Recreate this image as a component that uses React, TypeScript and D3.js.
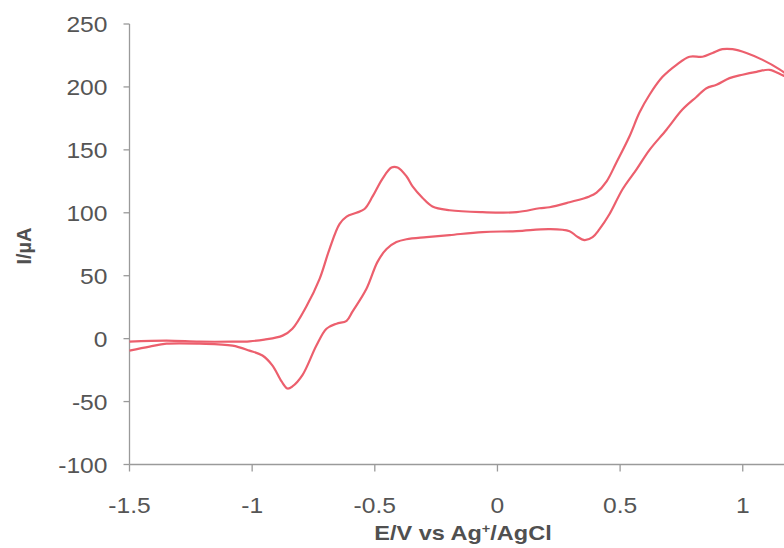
import React from "react";
import * as d3 from "d3";

// Forward (anodic) sweep: potential (V) and current (µA)
const forwardE = [-1.5, -1.349, -1.215, -1.08, -1.011, -0.95, -0.876, -0.836, -0.778, -0.725, -0.685, -0.644, -0.615, -0.575, -0.542, -0.509, -0.469, -0.432, -0.407, -0.371, -0.346, -0.306, -0.265, -0.195, -0.061, 0.078, 0.171, 0.212, 0.294, 0.375, 0.404, 0.445, 0.485, 0.538, 0.579, 0.62, 0.673, 0.73, 0.783, 0.836, 0.877, 0.917, 0.958, 1.015, 1.081, 1.15, 1.2];
const forwardI = [-2.4, -1.6, -2.4, -2.4, -2.1, -0.8, 2.4, 7.9, 26, 47.5, 71, 91, 97, 100, 103, 113, 127, 136, 136, 129, 121, 112, 105, 102, 100.5, 100.5, 103.6, 104.4, 108.4, 113, 116, 125, 140, 160.6, 179.6, 193.8, 208, 217.6, 224, 224, 227, 230, 230, 227, 221.5, 214, 207];

// Reverse (cathodic) sweep
const reverseE = [1.2, 1.166, 1.109, 1.056, 0.999, 0.946, 0.893, 0.852, 0.811, 0.754, 0.689, 0.62, 0.567, 0.51, 0.457, 0.416, 0.388, 0.355, 0.322, 0.294, 0.212, 0.078, -0.061, -0.195, -0.289, -0.371, -0.412, -0.452, -0.489, -0.534, -0.591, -0.615, -0.656, -0.697, -0.738, -0.795, -0.836, -0.856, -0.88, -0.917, -0.958, -1.011, -1.08, -1.215, -1.349, -1.418, -1.5];
const reverseI = [207, 209, 213.6, 212, 209.7, 207, 201.7, 199, 192, 182, 166, 150, 134.5, 118.7, 99, 87, 80.7, 78.3, 81.5, 85.4, 87, 85.4, 84.7, 82.3, 80.7, 79, 76.7, 71.2, 61, 39.6, 21.4, 14.2, 11.9, 7.9, -5.5, -29, -38, -39.6, -34, -21.4, -13.4, -9.5, -5.5, -4, -4, -6.3, -9.5];

const xTicks = [-1.5, -1, -0.5, 0, 0.5, 1];
const yTicks = [-100, -50, 0, 50, 100, 150, 200, 250];

const X_TITLE = "E/V vs Ag";
const X_TITLE_SUP = "+";
const X_TITLE_END = "/AgCl";
const Y_TITLE = "I/µA";

export default function App() {
  const W = 784, H = 548;
  const x0 = 129.5;
  const x = d3.scaleLinear().domain([-1.5, 1.5]).range([x0, x0 + 3 * 245.3]);
  const y = d3.scaleLinear().domain([-100, 250]).range([464.5, 24]);
  const line = d3
    .line<[number, number]>()
    .x((d) => x(d[0]))
    .y((d) => y(d[1]))
    .curve(d3.curveCatmullRom.alpha(0.5));
  const fwd: [number, number][] = forwardE.map((e, i) => [e, forwardI[i]]);
  const rev: [number, number][] = reverseE.map((e, i) => [e, reverseI[i]]);
  const axisColor = "#9a9a9a";
  const font = "'Liberation Sans', Arial, sans-serif";
  const yAxisX = x(-1.5);
  const xAxisY = y(-100);
  return (
    <svg
      width={W}
      height={H}
      style={{ position: "absolute", left: 0, top: 0, background: "#fff" }}
    >
      <rect width={W} height={H} fill="#fff" />
      {/* axes */}
      <line x1={yAxisX} x2={yAxisX} y1={y(250)} y2={xAxisY} stroke={axisColor} strokeWidth={1.3} />
      <line x1={yAxisX} x2={W} y1={xAxisY} y2={xAxisY} stroke={axisColor} strokeWidth={1.3} />
      {yTicks.map((t) => (
        <g key={"y" + t}>
          <line x1={yAxisX - 6} x2={yAxisX} y1={y(t)} y2={y(t)} stroke={axisColor} strokeWidth={1.3} />
          <text
            transform={`translate(${yAxisX - 22},${y(t) + 8}) scale(1.12,1)`}
            textAnchor="end"
            fontFamily={font}
            fontSize={22}
            fill="#555"
          >
            {t}
          </text>
        </g>
      ))}
      {xTicks.map((t) => (
        <g key={"x" + t}>
          <line x1={x(t)} x2={x(t)} y1={xAxisY} y2={xAxisY + 7} stroke={axisColor} strokeWidth={1.3} />
          <text
            transform={`translate(${x(t)},${513}) scale(1.12,1)`}
            textAnchor="middle"
            fontFamily={font}
            fontSize={22}
            fill="#555"
          >
            {t}
          </text>
        </g>
      ))}
      {/* curves */}
      <path d={line(fwd) || ""} fill="none" stroke="#ec5f6d" strokeWidth={2.2} />
      <path d={line(rev) || ""} fill="none" stroke="#ec5f6d" strokeWidth={2.2} />
      {/* titles */}
      <text
        transform={`translate(463,540) scale(1.12,1)`}
        textAnchor="middle"
        fontFamily={font}
        fontWeight="bold"
        fontSize={21}
        fill="#505050"
      >
        {X_TITLE}
        <tspan baselineShift="super" fontSize={13}>{X_TITLE_SUP}</tspan>
        {X_TITLE_END}
      </text>
      <text
        transform={`translate(31,246) rotate(-90)`}
        textAnchor="middle"
        fontFamily={font}
        fontWeight="bold"
        fontSize={20}
        fill="#505050"
      >
        {Y_TITLE}
      </text>
    </svg>
  );
}
